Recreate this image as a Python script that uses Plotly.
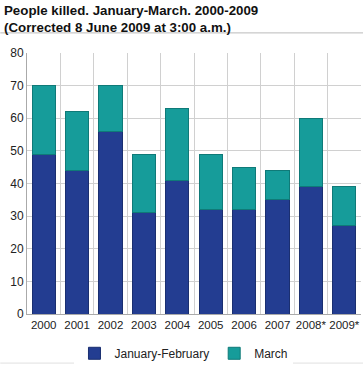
import plotly.graph_objects as go

years = ["2000", "2001", "2002", "2003", "2004", "2005", "2006", "2007", "2008*", "2009*"]
jan_feb = [49, 44, 56, 31, 41, 32, 32, 35, 39, 27]
march = [21, 18, 14, 18, 22, 17, 13, 9, 21, 12]
y_ticks = [0, 10, 20, 30, 40, 50, 60, 70, 80]

fig = go.Figure()
fig.add_trace(go.Bar(x=years, y=jan_feb, name="January-February",
                     marker=dict(color="#233D91", line=dict(color="#1A2F70", width=1))))
fig.add_trace(go.Bar(x=years, y=march, name="March",
                     marker=dict(color="#169C9A", line=dict(color="#0F7A78", width=1))))

fig.update_layout(
    barmode="stack",
    bargap=0.3,
    width=363, height=365,
    margin=dict(l=27, r=2, t=53, b=51, autoexpand=False),
    paper_bgcolor="white", plot_bgcolor="white",
    font=dict(family="Liberation Sans, Arial, sans-serif", size=12, color="#222"),
    annotations=[
        dict(text="<b>People killed. January-March. 2000-2009<br>(Corrected 8 June 2009 at 3:00 a.m.)</b>",
             xref="paper", yref="paper", x=-0.075, y=1 + 52 / 261, xanchor="left", yanchor="top",
             align="left", showarrow=False, font=dict(size=13.3, color="#111")),
    ],
    legend=dict(orientation="h", x=0.47, xanchor="center", y=-0.095, yanchor="top",
                font=dict(size=12), traceorder="normal"),
    showlegend=True,
    shapes=[
        dict(type="line", xref="paper", yref="paper", x0=-0.08, x1=1.01, y0=1.077, y1=1.077,
             line=dict(color="#BBBBBB", width=1)),
        dict(type="line", xref="paper", yref="paper", x0=-0.08, x1=1.01, y0=-0.188, y1=-0.188,
             line=dict(color="#E0E0E0", width=1)),
    ],
)
fig.update_xaxes(type="category", tickson="boundaries", showgrid=True, gridcolor="#D0D0D0",
                 gridwidth=1, showline=True, linecolor="#AAAAAA", ticks="", tickangle=0,
                 automargin=False, tickfont=dict(size=11.5))
fig.update_yaxes(range=[0, 80], tickvals=y_ticks, showgrid=True, gridcolor="#D0D0D0",
                 showline=True, linecolor="#AAAAAA", zeroline=False, ticks="", automargin=False,
                 tickfont=dict(size=12))

fig.write_html("out.html", config={"displayModeBar": False},
               post_script="document.body.style.margin='0';document.body.style.overflow='hidden';")
